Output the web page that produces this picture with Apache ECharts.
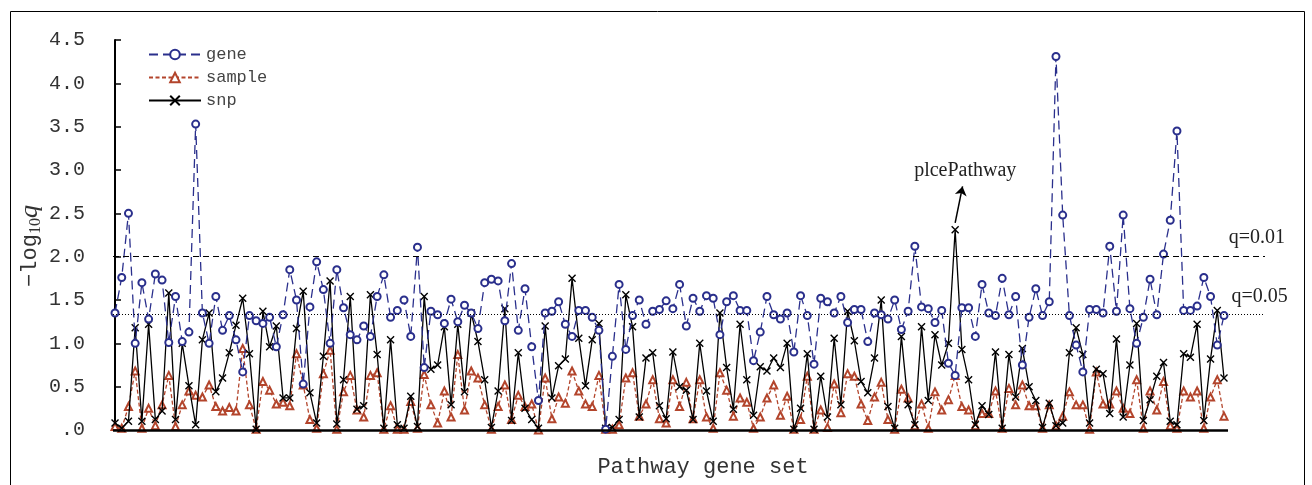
<!DOCTYPE html>
<html><head><meta charset="utf-8">
<script src="https://cdn.jsdelivr.net/npm/echarts@6/dist/echarts.min.js"></script>
<style>html,body{margin:0;padding:0;background:#fff}#c{width:1312px;height:485px}</style>
</head><body><div id="c"></div>
<script>
const seriesNames = ['gene', 'sample', 'snp'];
const yTicks = ['.0', '0.5', '1.0', '1.5', '2.0', '2.5', '3.0', '3.5', '4.0', '4.5'];
const gene = [
 1.35, 1.76, 2.5, 1.0, 1.7, 1.28, 1.8, 1.73, 1.01, 1.54, 1.02, 1.13, 3.53, 1.35, 1.0,
 1.54, 1.15, 1.32, 1.04, 0.67, 1.32, 1.26, 1.23, 1.3, 0.96, 1.33, 1.85, 1.5, 0.53, 1.42,
 1.94, 1.62, 1.0, 1.85, 1.41, 1.1, 1.04, 1.2, 1.08, 1.54, 1.79, 1.3, 1.38, 1.5, 1.08, 2.11,
 0.72, 1.37, 1.33, 1.23, 1.51, 1.25, 1.44, 1.35, 1.17, 1.7, 1.74, 1.72, 1.26, 1.92, 1.15,
 1.63, 0.96, 0.34, 1.35, 1.37, 1.48, 1.22, 1.08, 1.38, 1.38, 1.3, 1.15, 0.01, 0.85, 1.68, 0.93,
 1.32, 1.5, 1.22, 1.37, 1.39, 1.49, 1.4, 1.68, 1.2, 1.52, 1.37, 1.55, 1.52, 1.1, 1.48, 1.55,
 1.38, 1.38, 0.8, 1.13, 1.54, 1.33, 1.28, 1.35, 0.9, 1.55, 1.32, 0.76, 1.52, 1.48, 1.35,
 1.54, 1.24, 1.39, 1.39, 1.02, 1.35, 1.33, 1.28, 1.5, 1.16, 1.37, 2.12, 1.42, 1.4, 1.24, 1.38,
 0.77, 0.63, 1.41, 1.41, 1.08, 1.68, 1.35, 1.32, 1.75, 1.33, 1.54, 0.75, 1.3, 1.63, 1.32, 1.48,
 4.31, 2.48, 1.32, 0.98, 0.67, 1.39, 1.39, 1.35, 2.12, 1.37, 2.48, 1.4, 1.0, 1.3, 1.74,
 1.33, 2.03, 2.42, 3.45, 1.38, 1.38, 1.43, 1.76, 1.54, 0.98, 1.32
];
const sample = [
 0.04, 0.02, 0.27, 0.68, 0.02, 0.25, 0.05, 0.29, 0.63, 0.04, 0.29, 0.45, 0.4, 0.38, 0.52,
 0.27, 0.22, 0.26, 0.22, 0.94, 0.29, 0.01, 0.56, 0.46, 0.3, 0.32, 0.28, 0.88, 0.52, 0.12,
 0.02, 0.65, 0.92, 0.01, 0.44, 0.63, 0.23, 0.15, 0.63, 0.66, 0.01, 0.28, 0.01, 0.01, 0.33, 0.02,
 0.64, 0.29, 0.08, 0.45, 0.15, 0.87, 0.23, 0.68, 0.6, 0.29, 0.01, 0.27, 0.52, 0.12, 0.4,
 0.27, 0.3, 0.0, 0.6, 0.13, 0.38, 0.31, 0.68, 0.45, 0.3, 0.27, 0.63, 0.01, 0.01, 0.06, 0.6,
 0.66, 0.16, 0.3, 0.58, 0.13, 0.08, 0.58, 0.27, 0.55, 0.13, 0.58, 0.15, 0.02, 0.66, 0.46, 0.16,
 0.37, 0.32, 0.02, 0.15, 0.37, 0.52, 0.17, 0.39, 0.01, 0.12, 0.62, 0.01, 0.23, 0.03, 0.53,
 0.2, 0.65, 0.62, 0.3, 0.11, 0.38, 0.55, 0.12, 0.01, 0.47, 0.37, 0.05, 0.3, 0.02, 0.44, 0.23,
 0.35, 0.63, 0.27, 0.23, 0.05, 0.19, 0.19, 0.45, 0.02, 0.48, 0.29, 0.52, 0.28, 0.28, 0.02, 0.29,
 0.05, 0.16, 0.44, 0.29, 0.29, 0.01, 0.67, 0.3, 0.3, 0.45, 0.25, 0.19, 0.58, 0.02, 0.45,
 0.23, 0.56, 0.05, 0.02, 0.45, 0.38, 0.45, 0.02, 0.38, 0.58, 0.16
];
const snp = [
 0.08, 0.02, 0.1, 1.18, 0.1, 1.22, 0.12, 0.22, 1.58, 0.12, 1.0, 0.51, 0.06, 1.04, 1.35,
 0.44, 0.6, 0.89, 1.21, 1.52, 0.88, 0.01, 1.37, 0.96, 1.2, 0.37, 0.37, 1.17, 1.6, 0.43,
 0.08, 0.85, 1.72, 0.07, 0.58, 1.54, 0.24, 0.28, 1.56, 0.87, 0.02, 1.04, 0.06, 0.02, 0.39, 0.04,
 1.54, 0.7, 0.75, 1.19, 0.29, 1.22, 0.44, 1.35, 1.02, 0.58, 0.03, 0.45, 1.4, 0.11, 0.89,
 0.25, 0.12, 0.02, 1.2, 0.37, 0.74, 0.82, 1.75, 1.06, 0.51, 1.04, 1.23, 0.02, 0.03, 0.12, 1.56,
 1.19, 0.15, 0.83, 0.89, 0.28, 0.13, 0.9, 0.5, 0.46, 0.12, 1.0, 0.45, 0.1, 1.35, 0.72, 0.24,
 1.22, 0.58, 0.17, 0.73, 0.68, 0.83, 0.72, 1.0, 0.01, 0.25, 0.88, 0.01, 0.62, 0.15, 1.06,
 0.29, 1.37, 1.03, 0.56, 0.43, 0.83, 1.5, 0.27, 0.02, 1.08, 0.29, 0.06, 1.19, 0.34, 1.1, 0.75,
 1.0, 2.31, 0.93, 0.58, 0.06, 0.28, 0.18, 0.9, 0.02, 0.87, 0.38, 0.94, 0.5, 0.34, 0.03, 0.31,
 0.05, 0.08, 0.89, 1.18, 0.87, 0.08, 0.7, 0.65, 0.19, 1.05, 0.15, 0.75, 1.23, 0.11, 0.35,
 0.62, 0.78, 0.1, 0.06, 0.88, 0.84, 1.22, 0.11, 0.82, 1.38, 0.6
];
const thresholds = [2.0, 1.34];
const thresholdLabels = ['q=0.01', 'q=0.05'];
const highlightIndex = 125;
const highlightLabel = 'plcePathway';

const toPairs = arr => arr.map((v, i) => [i, v]);
const lastIdx = gene.length - 1;

const chart = echarts.init(document.getElementById('c'), null, {renderer: 'canvas'});
const monoFont = 'Liberation Mono';
const serifFont = 'Liberation Serif';
const lbl = (text, dx) => ({show: true, formatter: text, fontFamily: serifFont, fontSize: 20, color: '#222', position: 'inside', offset: [dx || 0, 0]});

const option = {
  animation: false,
  backgroundColor: '#fff',
  grid: {left: 113, right: 47, top: 40, bottom: 55},
  legend: {
    data: seriesNames,
    orient: 'vertical',
    left: 143, top: 41,
    itemWidth: 52, itemHeight: 12, itemGap: 6,
    textStyle: {fontFamily: monoFont, fontSize: 17, color: '#444'}
  },
  xAxis: {
    type: 'value', min: -0.3, max: 171.1,
    axisLine: {show: false}, axisTick: {show: false}, axisLabel: {show: false}, splitLine: {show: false}
  },
  yAxis: {
    type: 'value', min: 0, max: 4.5, interval: 0.5,
    axisLine: {show: true, lineStyle: {color: '#000', width: 2}},
    axisTick: {show: true, inside: true, length: 6, lineStyle: {color: '#000', width: 1.5}},
    axisLabel: {
      margin: 28, fontFamily: monoFont, fontSize: 20, color: '#333',
      formatter: v => yTicks[Math.round(v / 0.5)]
    },
    splitLine: {show: false}
  },
  series: [
    {
      name: 'sample', type: 'line', data: toPairs(sample), showAllSymbol: true,
      symbol: 'emptyTriangle', symbolSize: 7,
      lineStyle: {color: '#b3452c', width: 1.3, type: [4, 2.5]},
      itemStyle: {color: '#b3452c', borderWidth: 1.3},
      z: 2,
      markLine: {
        silent: true, symbol: 'none', animation: false,
        label: {show: false},
        data: [
          [{coord: [-0.3, 0], lineStyle: {color: '#000', width: 2.5, type: 'solid'}}, {coord: [lastIdx + 0.6, 0]}],
          {yAxis: thresholds[0], lineStyle: {color: '#000', width: 1.2, type: [6, 4]}},
          {yAxis: thresholds[1], lineStyle: {color: '#000', width: 1.2, type: [1, 2]}}
        ]
      }
    },
    {
      name: 'snp', type: 'line', data: toPairs(snp), showAllSymbol: true,
      symbol: 'path://M0 0L10 10M10 0L0 10', symbolSize: 7,
      lineStyle: {color: '#000', width: 1.3, type: 'solid'},
      itemStyle: {color: '#000', borderColor: '#000', borderWidth: 1.4},
      z: 3,
      markLine: {
        silent: true, animation: false,
        label: {show: false},
        data: [
          [{coord: [highlightIndex, snp[highlightIndex] + 0.08], symbol: 'none'},
           {coord: [highlightIndex + 1.1, snp[highlightIndex] + 0.5], symbol: 'arrow', symbolSize: 9,
            lineStyle: {color: '#000', width: 1.5, type: 'solid'}}]
        ],
        lineStyle: {color: '#000', width: 1.5, type: 'solid'}
      },
      markPoint: {
        silent: true, symbol: 'circle', symbolSize: 0,
        data: [{coord: [highlightIndex + 1.5, snp[highlightIndex] + 0.68], label: lbl(highlightLabel)}]
      }
    },
    {
      name: 'gene', type: 'line', data: toPairs(gene), showAllSymbol: true,
      symbol: 'emptyCircle', symbolSize: 7,
      lineStyle: {color: '#2a2f8c', width: 1.3, type: [9, 5]},
      itemStyle: {color: '#2a2f8c', borderWidth: 1.3},
      z: 4,
      markPoint: {
        silent: true, symbol: 'circle', symbolSize: 0,
        data: [
          {coord: [169.9, thresholds[0] + 0.22], label: lbl(thresholdLabels[0])},
          {coord: [170.3, thresholds[1] + 0.2], label: lbl(thresholdLabels[1])}
        ]
      }
    }
  ],
  graphic: [
    {type: 'rect', shape: {x: 10.5, y: 11.5, width: 1294, height: 480}, style: {fill: 'none', stroke: '#000', lineWidth: 1}, silent: true, z: -1},
    {type: 'text', x: 703, y: 467, style: {text: 'Pathway gene set', font: '22px "Liberation Mono"', fill: '#333', align: 'center', verticalAlign: 'middle'}},
    {type: 'text', x: 30, y: 246, rotation: Math.PI / 2,
     style: {
       text: '{a|−log}{b|10}{c|q}',
       align: 'center', verticalAlign: 'middle',
       rich: {
         a: {fontFamily: monoFont, fontSize: 22, fill: '#333', lineHeight: 28, verticalAlign: 'middle'},
         b: {fontFamily: serifFont, fontSize: 16, fill: '#333', lineHeight: 16, verticalAlign: 'bottom'},
         c: {fontFamily: serifFont, fontSize: 26, fontStyle: 'italic', fill: '#333', lineHeight: 28, verticalAlign: 'middle'}
       }
     }}
  ]
};
chart.setOption(option);
</script></body></html>
